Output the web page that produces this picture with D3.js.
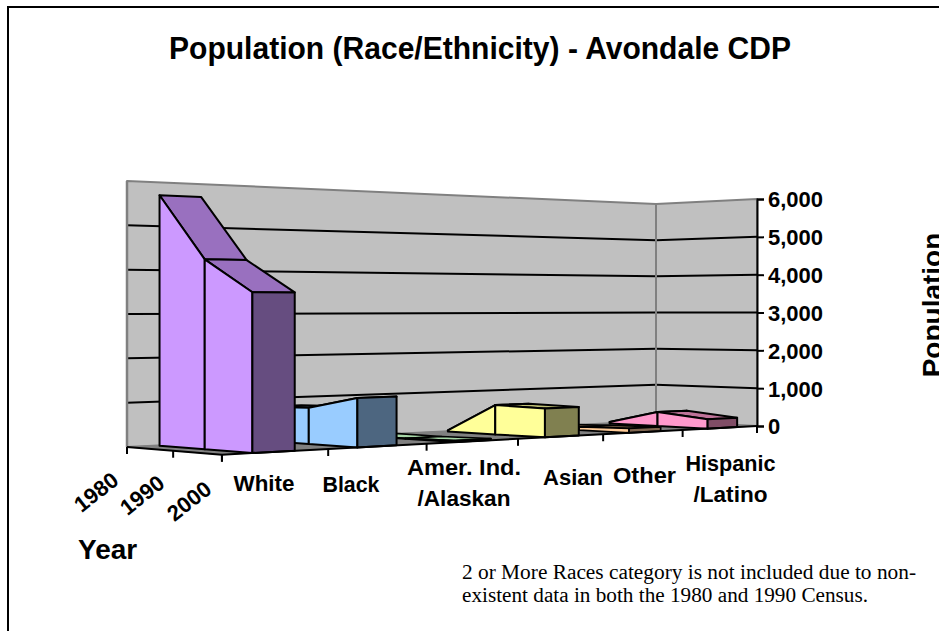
<!DOCTYPE html>
<html><head><meta charset="utf-8">
<script src="https://cdn.jsdelivr.net/npm/d3@7"></script>
<style>html,body{margin:0;padding:0;background:#fff;overflow:hidden}svg{display:block}
text{font-family:"Liberation Sans",Arial,sans-serif;font-weight:700;fill:#000}</style>
</head><body><svg id="c" width="939" height="631"></svg>
<script>
const categories = ["White","Black","Amer. Ind.|/Alaskan","Asian","Other","Hispanic|/Latino"];
const years = [1980,1990,2000];
const values1980 = [5700,800,20,30,40,40];
const values1990 = [4210,835,15,724,80,370];
const values2000 = [3470,1110,40,700,110,245];
const valueTicks = [0,1000,2000,3000,4000,5000,6000];
const lightColors = ["#CC99FF","#99CCFF","#CCFFCC","#FFFF99","#FFCC99","#FF99CC"];
const topColors   = ["#9970BF","#7399BF","#A6D6A6","#BFBF73","#BF9973","#BF7399"];
const frontColors = ["#664D80","#4D6680","#668066","#808050","#806650","#804D66"];

const svg = d3.select("#c");
// two-point perspective of the chart box
const persp = {g:.226,h:-.054};
const BL=[127,447],BR=[656,421],FR=[757,426];
const coef = i => {
  const c=BL[i], a=BR[i]*(1+persp.g)-c, b=FR[i]*(1+persp.g+persp.h)-a-c;
  return {a,b,c};
};
const cx=coef(0), cy=coef(1);
const uScale=d3.scaleLinear().domain([0,categories.length]).range([0,1]);
const ribbonScale=d3.scaleLinear().domain([0,categories.length]).range([0,1.01]);
const vScale=d3.scaleLinear().domain([1980,2000]).range([.03,1]);
const hScale=d3.scaleLinear().domain([0,6000]).range([0,266]);
const project=(u,v,val)=>{
  const w=1+persp.g*u+persp.h*v;
  return [(cx.a*u+cx.b*v+cx.c)/w,(cy.a*u+cy.b*v+cy.c)/w-hScale(val)/w];
};
const poly=(pts,fill,stroke,sw)=>svg.append("polygon")
  .attr("points",pts.map(p=>p.map(n=>n.toFixed(2)).join(",")).join(" "))
  .attr("fill",fill).attr("stroke",stroke).attr("stroke-width",sw).attr("stroke-linejoin","round");
const seg=(p,q,stroke,sw)=>svg.append("line").attr("x1",p[0]).attr("y1",p[1]).attr("x2",q[0]).attr("y2",q[1])
  .attr("stroke",stroke).attr("stroke-width",sw);

// frame
svg.append("path").attr("d","M8,631V7H939").attr("fill","none").attr("stroke","#000").attr("stroke-width",2);

// walls and floor
const vMin=0,vMax=1,maxVal=valueTicks[valueTicks.length-1];
poly([project(0,vMin,0),project(1,vMin,0),project(1,vMin,maxVal),project(0,vMin,maxVal)],"#C0C0C0","#808080",2);
poly([project(1,vMin,0),project(1,vMax,0),project(1,vMax,maxVal),project(1,vMin,maxVal)],"#C0C0C0","#808080",2);
poly([project(0,vMin,0),project(1,vMin,0),project(1,vMax,0),project(0,vMax,0)],"#808080","#808080",1);
valueTicks.filter(t=>t>0&&t<maxVal).forEach(t=>{
  seg(project(0,vMin,t),project(1,vMin,t),"#000",2);
  seg(project(1,vMin,t),project(1,vMax,t),"#000",2);
});
seg(project(1,vMin,0),project(1,vMin,maxVal),"#808080",2);
seg(project(0,vMin,0),project(0,vMin,maxVal),"#808080",2.5);

// ribbons, far right first
const bandA=.276,bandB=.67;
const ys=[values1980,values1990,values2000];
d3.range(categories.length-1,-1,-1).forEach(i=>{
  const u0=ribbonScale(i+bandA),u1=ribbonScale(i+bandB);
  const pv=years.map(y=>vScale(y));
  const sw=d3.max(ys,r=>r[i])<150?1.7:2;
  for(let k=0;k<years.length-1;k++){
    poly([project(u0,pv[k],ys[k][i]),project(u1,pv[k],ys[k][i]),project(u1,pv[k+1],ys[k+1][i]),project(u0,pv[k+1],ys[k+1][i])],topColors[i],"#000",sw);
  }
  for(let k=0;k<years.length-1;k++){
    poly([project(u0,pv[k],0),project(u0,pv[k+1],0),project(u0,pv[k+1],ys[k+1][i]),project(u0,pv[k],ys[k][i])],lightColors[i],"#000",sw);
  }
  const f=pv[years.length-1],fv=ys[years.length-1][i];
  poly([project(u0,f,0),project(u1,f,0),project(u1,f,fv),project(u0,f,fv)],frontColors[i],"#000",sw);
});

// axes
seg(project(0,0,0),project(0,1,0),"#000",2);
seg(project(0,1,0),project(1,1,0),"#000",2);
d3.range(0,categories.length+1).forEach(i=>{
  const p=project(uScale(i),1,0); seg(p,[p[0],p[1]+7],"#000",2);
});
[0,.5,1].forEach(v=>{const p=project(0,v,0); seg(p,[p[0],p[1]+7],"#000",2);});
const yTop=project(1,1,maxVal)[1], yBase=project(1,1,0)[1];
const axisScale=d3.scaleLinear().domain([0,maxVal]).range([yBase,yTop]);
const ax=svg.append("g").attr("transform",`translate(${project(1,1,0)[0]},0)`)
  .call(d3.axisRight(axisScale).tickValues(valueTicks).tickFormat(d3.format(",")).tickSize(7).tickPadding(4));
ax.selectAll("path,line").attr("stroke","#000").attr("stroke-width",2);
ax.selectAll("text").attr("font-size",22).attr("dy","0.36em").style("font-family",'"Liberation Sans",Arial,sans-serif');

// labels
const label=(s,x,y,size,anchor,extra)=>{
  const t=svg.append("text").attr("x",x).attr("y",y).attr("font-size",size).attr("text-anchor",anchor||"middle").text(s);
  if(extra) extra(t); return t;
};
const fit=w=>t=>t.attr("textLength",w).attr("lengthAdjust","spacingAndGlyphs");
const chartTitle="Population (Race/Ethnicity) - Avondale CDP";
label(chartTitle,480,59,32,"middle",fit(622));
const labelSpots=[[264,491],[351,492],[464,475,506],[573,485],[644.5,483],[730.5,471,502]];
const labelWidths=[[61],[57],[114,93],[60],[63],[90,74]];
categories.forEach((c,i)=>{
  c.split("|").forEach((s,j)=>label(s,labelSpots[i][0],labelSpots[i][j+1],22,"middle",fit(labelWidths[i][j])));
});
const yearSpots=[[96,492],[142,495],[189,501]];
years.forEach((y,i)=>{
  const [x,yy]=yearSpots[i];
  label(String(y),0,0,22,"middle",t=>t.attr("dy","0.35em").attr("transform",`translate(${x},${yy}) rotate(-38)`));
});
label("Year",78,559,28,"start");
label("Population",942,305,28,"middle",t=>t.attr("transform","rotate(-90 942 305)"));
[["2 or More Races category is not included due to non-",579,454],["existent data in both the 1980 and 1990 Census.",602,406]].forEach(([s,y,w])=>{
  svg.append("text").attr("x",462).attr("y",y).attr("font-size",20.5).attr("textLength",w).attr("lengthAdjust","spacingAndGlyphs").style("font-family",'"Liberation Serif",serif').style("font-weight",400).text(s);
});
</script></body></html>
